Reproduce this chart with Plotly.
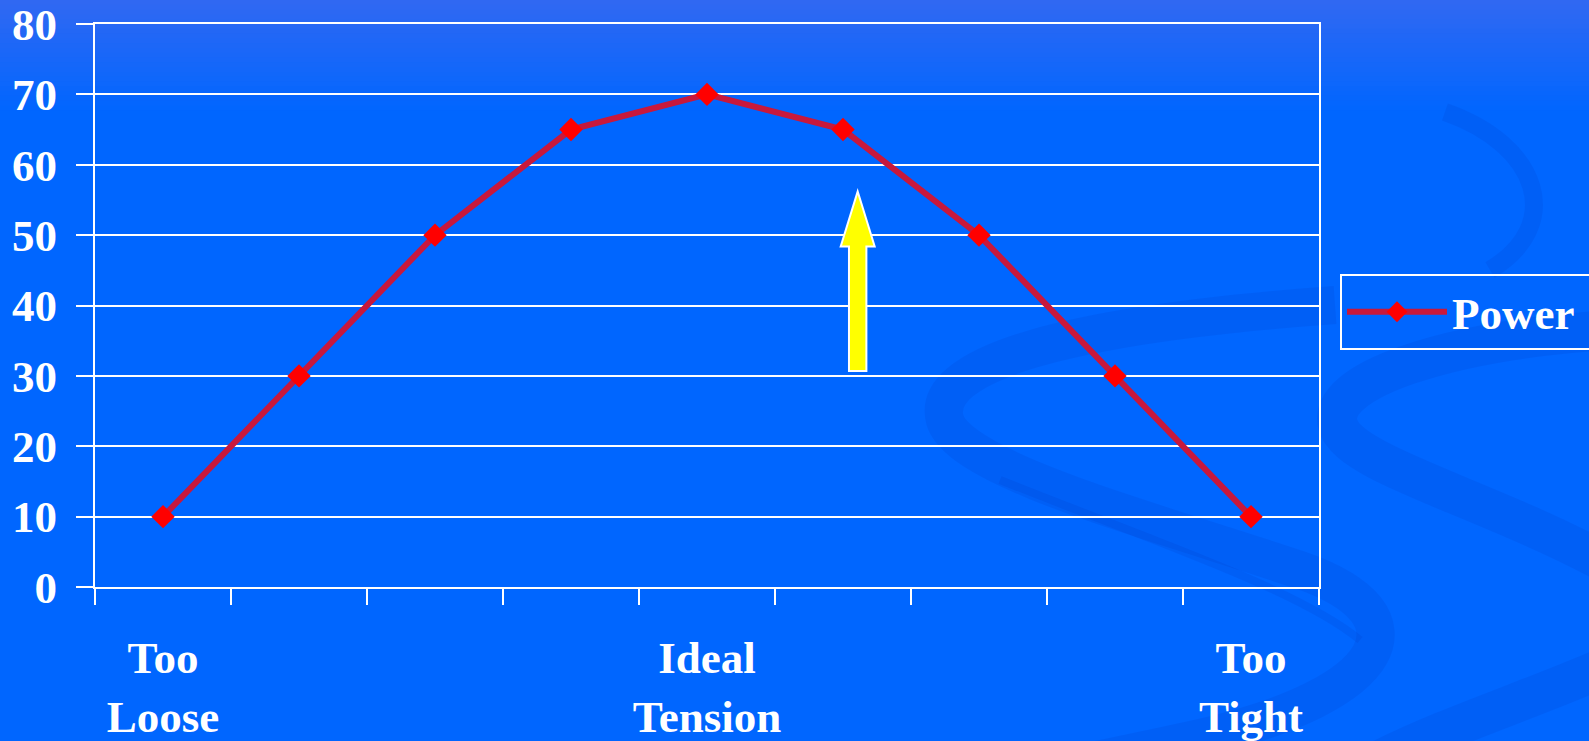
import plotly.graph_objects as go

# String tension categories (left to right) and power values
categories = ["Too Loose", "", "", "", "Ideal Tension", "", "", "", "Too Tight"]
power = [10, 30, 50, 65, 70, 65, 50, 30, 10]
y_ticks = [0, 10, 20, 30, 40, 50, 60, 70, 80]

W, H = 1589, 741
L, R, T, B = 95, 1319, 24, 587  # plot area in pixels

x_pos = list(range(1, len(categories) + 1))
label_pos = [x for x, c in zip(x_pos, categories) if c]
label_txt = [c.replace(" ", "<br>") for c in categories if c]

FONT = dict(family="Liberation Serif, Times New Roman, serif", size=45, color="white", weight="bold")


def px_to_paper(x, y):
    return (x - L) / (R - L), (B - y) / (B - T)


def paper_path(cmds):
    out = []
    for cmd in cmds:
        op, pts = cmd[0], cmd[1:]
        coords = []
        for (x, y) in pts:
            px, py = px_to_paper(x, y)
            coords.append(f"{px:.4f},{py:.4f}")
        out.append(op + " ".join(coords))
    return " ".join(out)


shapes = []

# vertical background gradient at the top of the page
top_c = (48, 104, 242)
base_c = (0, 102, 255)
steps = 24
grad_h = 115
x0p, _ = px_to_paper(-5, 0)
x1p, _ = px_to_paper(W + 5, 0)
for i in range(steps):
    t = i / (steps - 1)
    c = tuple(round(top_c[k] + (base_c[k] - top_c[k]) * t) for k in range(3))
    y0 = grad_h * i / steps - (5 if i == 0 else 0)
    y1 = grad_h * (i + 1) / steps + 1
    _, p0 = px_to_paper(0, y0)
    _, p1 = px_to_paper(0, y1)
    shapes.append(dict(type="rect", xref="paper", yref="paper", x0=x0p, x1=x1p,
                       y0=p1, y1=p0, line=dict(width=0),
                       fillcolor=f"rgb{c}", layer="below"))

# decorative swirl ribbons on the right
swirl = "rgba(0,45,170,0.11)"
ribbons = [
    ([("M", (1335, 305)), ("C", (1060, 325), (930, 365), (945, 420)),
      ("C", (960, 470), (1150, 520), (1300, 570)),
      ("C", (1430, 615), (1390, 695), (1200, 738)),
      ("C", (1100, 760), (1000, 780), (900, 800))], 38),
    ([("M", (1610, 330)), ("C", (1450, 340), (1325, 380), (1338, 425)),
      ("C", (1350, 465), (1480, 495), (1610, 565))], 40),
    ([("M", (1445, 112)), ("C", (1540, 145), (1565, 225), (1490, 270))], 18),
    ([("M", (1610, 665)), ("C", (1530, 700), (1450, 725), (1380, 760))], 40),
    ([("M", (1000, 480)), ("C", (1150, 540), (1300, 590), (1360, 640))], 8),
]
for cmds, w in ribbons:
    shapes.append(dict(type="path", xref="paper", yref="paper", path=paper_path(cmds),
                       line=dict(color=swirl, width=w), fillcolor="rgba(0,0,0,0)",
                       layer="below"))

# yellow up arrow
ax, ay_tip, ay_head, ay_base = 6.108, 56.2, 48.4, 30.7
head_hw, shaft_hw = 0.125, 0.064
arrow_path = (f"M{ax},{ay_tip} L{ax + head_hw},{ay_head} L{ax + shaft_hw},{ay_head} "
              f"L{ax + shaft_hw},{ay_base} L{ax - shaft_hw},{ay_base} "
              f"L{ax - shaft_hw},{ay_head} L{ax - head_hw},{ay_head} Z")
shapes.append(dict(type="path", xref="x", yref="y", path=arrow_path,
                   fillcolor="#FFFF00", line=dict(color="white", width=2), layer="above"))

fig = go.Figure()
fig.add_trace(go.Scatter(
    x=x_pos, y=power, name="Power\u00a0\u00a0\u00a0", mode="lines+markers",
    line=dict(color="#C8183C", width=6),
    marker=dict(symbol="diamond", size=18, color="#FF0000", line=dict(width=0)),
))

fig.update_layout(
    width=W, height=H,
    margin=dict(l=L, r=W - R, t=T, b=H - B, pad=0, autoexpand=False),
    paper_bgcolor="#0066FF",
    plot_bgcolor="rgba(0,0,0,0)",
    font=FONT,
    shapes=shapes,
    showlegend=True,
    legend=dict(
        x=(1340 - L) / (R - L), y=(B - 274) / (B - T), xanchor="left", yanchor="top",
        bgcolor="rgba(0,0,0,0)", bordercolor="white", borderwidth=2,
        font=FONT, itemwidth=100, tracegroupgap=0,
    ),
    xaxis=dict(
        range=[0.5, len(categories) + 0.5], automargin=False,
        tickmode="array", tickvals=label_pos, ticktext=label_txt,
        ticks="", tickfont=FONT, ticklabelstandoff=30, ticklabeloverflow="allow",
        showline=True, linecolor="white", linewidth=2, mirror=True,
        showgrid=False, zeroline=False, fixedrange=True,
        minor=dict(tickmode="array", tickvals=[x - 0.5 for x in x_pos] + [x_pos[-1] + 0.5],
                   ticks="outside", ticklen=16, tickwidth=2, tickcolor="white", showgrid=False),
    ),
    yaxis=dict(
        range=[0, 80], tickmode="array", tickvals=y_ticks, automargin=False,
        ticks="outside", ticklen=17, tickwidth=2, tickcolor="white",
        tickfont=FONT, ticklabelstandoff=10, ticklabeloverflow="allow",
        showline=True, linecolor="white", linewidth=2, mirror=True,
        showgrid=True, gridcolor="white", gridwidth=2, zeroline=False,
    ),
)

fig.write_html("out.html")
